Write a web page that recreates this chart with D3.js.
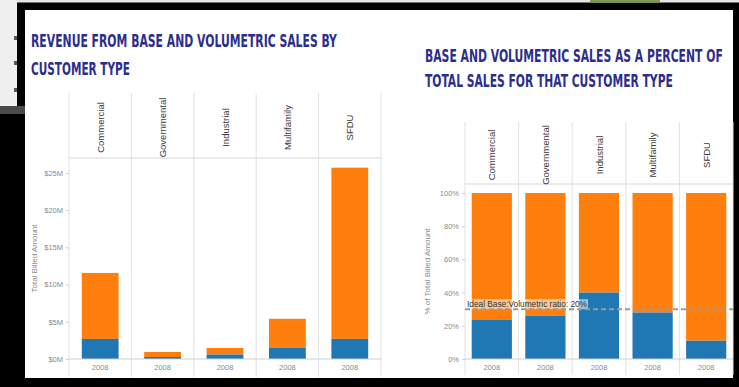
<!DOCTYPE html>
<html><head><meta charset="utf-8">
<script src="https://cdn.jsdelivr.net/npm/d3@7"></script>
<style>html,body{margin:0;padding:0;background:#000;}svg{display:block;}</style>
</head><body>
<svg id="chart" width="739" height="387"></svg>
<script>
// ---- data ----
const categories = ["Commercial", "Governmental", "Industrial", "Multifamily", "SFDU"];
const yearLabels = ["2008", "2008", "2008", "2008", "2008"];
const baseRevenueM = [2.7, 0.27, 0.6, 1.48, 2.7];
const volumetricRevenueM = [8.86, 0.67, 0.88, 3.92, 23.0];
const basePct = [23.5, 26, 40, 28, 11];
const volumetricPct = [76.5, 74, 60, 72, 89];
const revenueTicks = [0, 5, 10, 15, 20, 25];
const pctTicks = [0, 20, 40, 60, 80, 100];
const refLineValue = 30;
const refLineLabel = "Ideal Base:Volumetric ratio: 20%";
const leftTitle = ["REVENUE FROM BASE AND VOLUMETRIC SALES BY", "CUSTOMER TYPE"];
const rightTitle = ["BASE AND VOLUMETRIC SALES AS A PERCENT OF", "TOTAL SALES FOR THAT CUSTOMER TYPE"];

const BLUE = "#1f77b4", ORANGE = "#ff7f0e", GRID = "#e2e2e2", TXT = "#3a3a3a", AX = "#8a8a8a";
const svg = d3.select("#chart");

// ---- frame / backdrop ----
svg.append("rect").attr("width", 739).attr("height", 387).attr("fill", "#000");
svg.append("rect").attr("x", 0).attr("y", 0).attr("width", 739).attr("height", 2.5).attr("fill", "#e4e4e4");
svg.append("rect").attr("x", 590).attr("y", 0).attr("width", 70).attr("height", 2.5).attr("fill", "#7a9a4a");
svg.append("rect").attr("x", 0).attr("y", 0).attr("width", 17).attr("height", 106).attr("fill", "#efefef");
svg.append("rect").attr("x", 0).attr("y", 106).attr("width", 25).attr("height", 8).attr("fill", "#4a4a4a");
[[14, 36], [14, 61], [14, 88]].forEach(p => svg.append("rect").attr("x", p[0]).attr("y", p[1]).attr("width", 3).attr("height", 4).attr("fill", "#555"));
svg.append("rect").attr("x", 25).attr("y", 10).attr("width", 708).attr("height", 368).attr("fill", "#fff");

// ---- titles (fit the width, then stretch vertically to the cap height) ----
function title(lines, x, ys, lens) {
  lines.forEach((t, i) => {
    const txt = svg.append("text").text(t)
      .attr("font-family", "'Liberation Sans Narrow','DejaVu Sans Condensed',sans-serif")
      .attr("font-weight", "bold").attr("font-size", 18.5).attr("fill", "#2b2e8c");
    const natural = txt.node().getComputedTextLength();
    const fs = 18.5 * lens[i] / natural;
    txt.attr("font-size", fs)
      .attr("transform", `translate(${x},${ys[i]}) scale(1,${18.5 / fs})`);
  });
}
title(leftTitle, 31, [47, 75], [306, 99]);
title(rightTitle, 425, [62, 87], [298, 248]);

// ---- generic panel ----
function panel(opts) {
  const g = svg.append("g");
  const x = d3.scaleBand().domain(categories).range([opts.x0, opts.x1]).padding(0);
  const y = d3.scaleLinear().domain(opts.domain).range([opts.base, opts.top]);
  const bw = x.bandwidth(), barW = bw * opts.barFrac;

  const edges = categories.map(c => x(c)).concat([opts.x1]);
  g.selectAll(".div").data(edges).join("line")
    .attr("x1", d => d).attr("x2", d => d).attr("y1", opts.headTop).attr("y2", opts.bottom)
    .attr("stroke", GRID).attr("stroke-width", 1);
  g.append("line").attr("x1", opts.x0).attr("x2", opts.x1).attr("y1", opts.headBot).attr("y2", opts.headBot)
    .attr("stroke", "#d6d6d6");

  categories.forEach(c => {
    const cx = x(c) + bw / 2, cy = (opts.headTop + opts.headBot) / 2 + 2;
    g.append("text").text(c).attr("transform", `translate(${cx + 3.5},${cy}) rotate(-90)`)
      .attr("text-anchor", "middle").attr("font-family", "'Liberation Sans',Arial,sans-serif")
      .attr("font-size", 9.5).attr("fill", TXT);
  });

  categories.forEach((c, i) => {
    const bx = x(c) + (bw - barW) / 2;
    const b = opts.base_[i], v = opts.vol_[i];
    g.append("rect").attr("x", bx).attr("width", barW).attr("y", y(b + v)).attr("height", y(b) - y(b + v)).attr("fill", ORANGE);
    g.append("rect").attr("x", bx).attr("width", barW).attr("y", y(b)).attr("height", y(0) - y(b)).attr("fill", BLUE);
  });

  g.append("line").attr("x1", opts.x0).attr("x2", opts.x1).attr("y1", y(0)).attr("y2", y(0)).attr("stroke", "#cfcfcf");

  const ax = g.append("g").attr("transform", `translate(${opts.x0},0)`)
    .call(d3.axisLeft(y).tickValues(opts.ticks).tickFormat(opts.fmt).tickSize(3).tickPadding(3));
  ax.select(".domain").remove();
  ax.selectAll(".tick line").attr("stroke", "#cfcfcf");
  ax.selectAll(".tick text").attr("fill", AX).attr("font-size", 7.5).attr("font-family", "'Liberation Sans',Arial,sans-serif");

  g.append("text").text(opts.yTitle)
    .attr("transform", `translate(${opts.yTitleX},${(opts.base + opts.headBot) / 2}) rotate(-90)`)
    .attr("text-anchor", "middle").attr("font-size", 8).attr("fill", AX)
    .attr("font-family", "'Liberation Sans',Arial,sans-serif");

  categories.forEach((c, i) => {
    g.append("text").text(yearLabels[i]).attr("x", x(c) + bw / 2).attr("y", opts.base + 10.5)
      .attr("text-anchor", "middle").attr("font-size", 7.5).attr("fill", AX)
      .attr("font-family", "'Liberation Sans',Arial,sans-serif");
  });
  return { g, x, y };
}

panel({
  x0: 69, x1: 381, headTop: 93, headBot: 158, bottom: 377, base: 359, top: 158,
  domain: [0, 27], barFrac: 0.59, base_: baseRevenueM, vol_: volumetricRevenueM,
  ticks: revenueTicks, fmt: d => "$" + d + "M", yTitle: "Total Billed Amount", yTitleX: 37
});

const right = panel({
  x0: 465, x1: 733, headTop: 122, headBot: 184, bottom: 375, base: 359, top: 193,
  domain: [0, 100], barFrac: 0.75, base_: basePct, vol_: volumetricPct,
  ticks: pctTicks, fmt: d => d + "%", yTitle: "% of Total Billed Amount", yTitleX: 430
});

const ry = right.y(refLineValue);
right.g.append("rect").attr("x", 466).attr("y", ry - 10).attr("width", 122).attr("height", 10)
  .attr("fill", "#fff").attr("opacity", 0.55);
right.g.append("line").attr("x1", 465).attr("x2", 733).attr("y1", ry).attr("y2", ry)
  .attr("stroke", "#9a9a9a").attr("stroke-width", 2).attr("stroke-dasharray", "5,3");
right.g.append("text").text(refLineLabel).attr("x", 467).attr("y", ry - 2)
  .attr("font-size", 8.5).attr("fill", "#333").attr("font-family", "'Liberation Sans',Arial,sans-serif")
  .attr("textLength", 120).attr("lengthAdjust", "spacingAndGlyphs");
</script>
</body></html>
